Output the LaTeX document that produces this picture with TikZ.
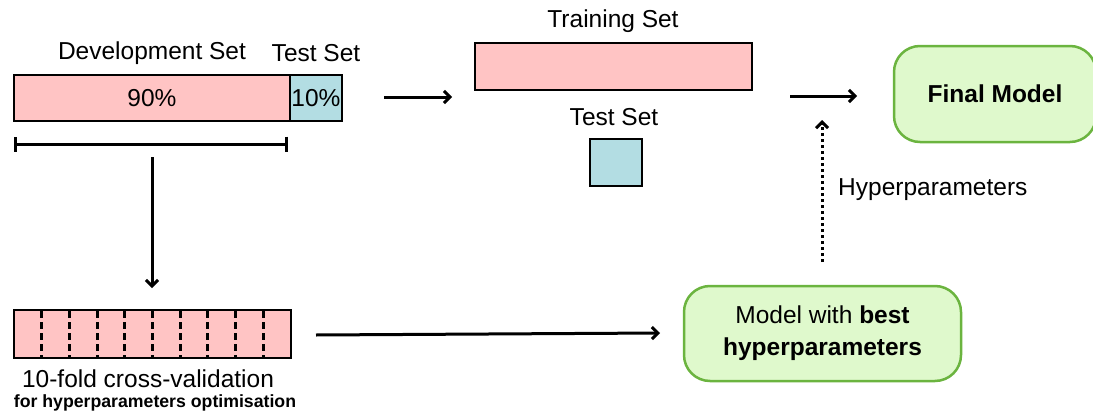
\documentclass[tikz,border=0pt]{standalone}
\usepackage{fontspec}
\setmainfont{Liberation Sans}
\usetikzlibrary{arrows.meta}

\definecolor{devpink}{HTML}{FFC4C4}
\definecolor{testblue}{HTML}{B3DDE3}
\definecolor{modelfill}{HTML}{DFF9CC}
\definecolor{modeledge}{HTML}{6BB43F}

\tikzset{
  setbox/.style={draw=black, line width=2.5pt, inner sep=0pt, minimum height=46pt},
  modelbox/.style={draw=modeledge, fill=modelfill, line width=2.5pt, rounded corners=26pt,
    align=center, inner sep=0pt, font=\fontsize{24.5}{32}\selectfont},
  flow/.style={-{Straight Barb[length=6pt,width=12pt,line width=3pt]}, line width=3pt},
  lbl/.style={font=\fontsize{24.5}{28}\selectfont, inner sep=0pt},
}

\begin{document}
\begin{tikzpicture}[x=1pt, y=-1pt]
		\path[use as bounding box] (0,0) rectangle (1093,415);
		\clip (0,0) rectangle (1093,415);

		% Draw the split of the data set
		\node[setbox, fill=devpink, minimum width=276pt, lbl] (dev) at (152,98) {90\%};
		\node[setbox, fill=testblue, minimum width=52pt, lbl] (test) at (316,98) {10\%};
		\node[lbl] (devlabel) at (152,53) {Development Set};
		\node[lbl] (testlabel) at (316,53) {Test Set};

		% Draw the bracket under the development set
		\coordinate (brL) at (14,144);
		\coordinate (brR) at (288,144);
		\draw[{Bar[width=15pt]}-{Bar[width=15pt]}, line width=3pt] (brL) -- (brR);

		% Draw the cross-validation bar with its folds
		\node[setbox, fill=devpink, minimum width=277pt, minimum height=48pt] (cv) at (152.5,334) {};
		\foreach \k in {1,...,9}
			\draw[line width=3pt, dash pattern=on 7pt off 4pt]
				(14+27.7*\k, 311) -- (14+27.7*\k, 357);
		\node[lbl] (cvlabel) at (148,379) {10-fold cross-validation};
		\node[font=\fontsize{17.7}{20}\selectfont\bfseries, inner sep=0pt] (cvnote) at (155,403)
			{for hyperparameters optimisation};

		% Draw the training and test sets
		\node[lbl] (trainlabel) at (613,21) {Training Set};
		\node[setbox, fill=devpink, minimum width=277pt, minimum height=47pt] (train) at (613.5,66.5) {};
		\node[lbl] (test2label) at (614,117) {Test Set};
		\node[setbox, fill=testblue, minimum width=52pt, minimum height=47pt] (test2) at (616,162.5) {};

		% Draw the models
		\node[modelbox, minimum width=202pt, minimum height=96pt] (final) at (995,94)
			{\bfseries Final Model};
		\node[modelbox, minimum width=277pt, minimum height=95pt] (best) at (822.5,333.5)
			{Model with \textbf{best}\\ \textbf{hyperparameters}};

		% Draw the arrows
		\coordinate (splitA) at (384,97);
		\coordinate (splitB) at (452,97);
		\draw[flow] (splitA) -- (splitB);

		\coordinate (downA) at (152,157);
		\coordinate (downB) at (152,288);
		\draw[flow] (downA) -- (downB);

		\coordinate (cvA) at (316,335);
		\coordinate (cvB) at (660,333);
		\draw[flow] (cvA) -- (cvB);

		\coordinate (trainA) at (790,96);
		\coordinate (trainB) at (857,96);
		\draw[flow] (trainA) -- (trainB);

		\coordinate (hypA) at (822,262);
		\coordinate (hypB) at (822,120);
		\draw[flow, dash pattern=on 3pt off 3pt] (hypA) -- (hypB);
		\node[lbl, anchor=west] (hyplabel) at (838,190) {Hyperparameters};
	\end{tikzpicture}
\end{document}
